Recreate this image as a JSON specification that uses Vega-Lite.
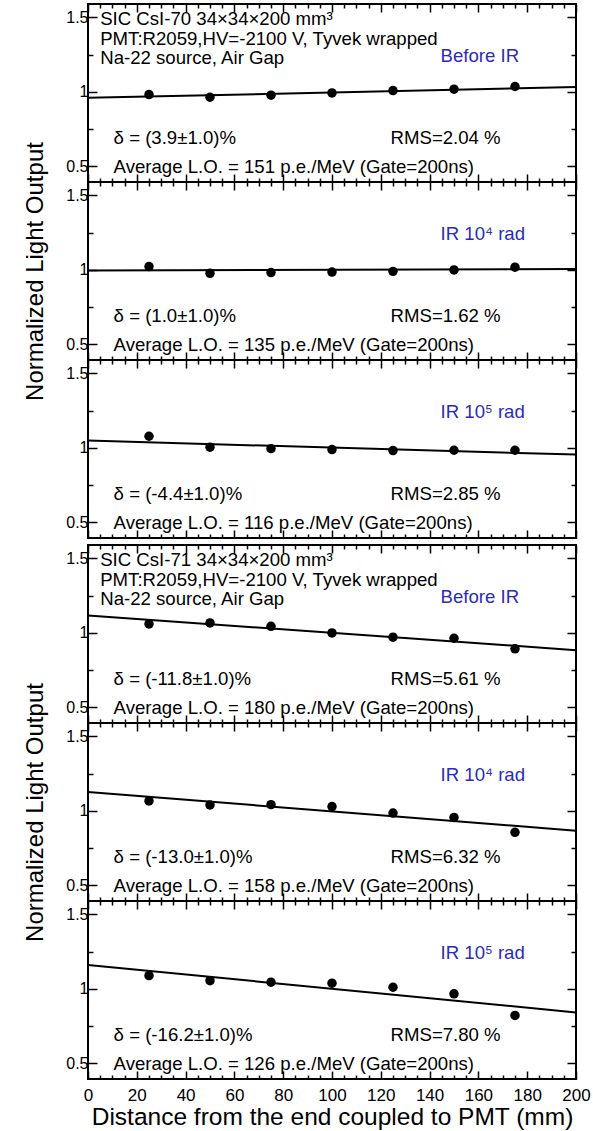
{
"$schema": "https://vega.github.io/schema/vega-lite/v6.json",
"padding": {"left": 22, "top": 2, "right": 0, "bottom": 0},
"background": "white",
"config": {
  "view": {"stroke": "black", "strokeWidth": 2},
  "axis": {"domain": false, "grid": false, "tickColor": "black", "tickWidth": 1.5, "labelFont": "Liberation Sans", "labelFontSize": 16, "labelColor": "black", "titleFont": "Liberation Sans", "titleFontWeight": "normal", "titleColor": "black", "titleFontSize": 24}
},
"datasets": {
  "points": [
    {"panel":1,"distance":25,"lo":0.982},{"panel":1,"distance":50,"lo":0.964},{"panel":1,"distance":75,"lo":0.978},{"panel":1,"distance":100,"lo":0.993},{"panel":1,"distance":125,"lo":1.009},{"panel":1,"distance":150,"lo":1.018},{"panel":1,"distance":175,"lo":1.036},
    {"panel":2,"distance":25,"lo":1.022},{"panel":2,"distance":50,"lo":0.977},{"panel":2,"distance":75,"lo":0.982},{"panel":2,"distance":100,"lo":0.985},{"panel":2,"distance":125,"lo":0.99},{"panel":2,"distance":150,"lo":1.0},{"panel":2,"distance":175,"lo":1.018},
    {"panel":3,"distance":25,"lo":1.078},{"panel":3,"distance":50,"lo":1.005},{"panel":3,"distance":75,"lo":0.995},{"panel":3,"distance":100,"lo":0.989},{"panel":3,"distance":125,"lo":0.982},{"panel":3,"distance":150,"lo":0.984},{"panel":3,"distance":175,"lo":0.984},
    {"panel":4,"distance":25,"lo":1.06},{"panel":4,"distance":50,"lo":1.067},{"panel":4,"distance":75,"lo":1.044},{"panel":4,"distance":100,"lo":1.0},{"panel":4,"distance":125,"lo":0.971},{"panel":4,"distance":150,"lo":0.964},{"panel":4,"distance":175,"lo":0.893},
    {"panel":5,"distance":25,"lo":1.067},{"panel":5,"distance":50,"lo":1.04},{"panel":5,"distance":75,"lo":1.042},{"panel":5,"distance":100,"lo":1.029},{"panel":5,"distance":125,"lo":0.985},{"panel":5,"distance":150,"lo":0.956},{"panel":5,"distance":175,"lo":0.856},
    {"panel":6,"distance":25,"lo":1.089},{"panel":6,"distance":50,"lo":1.055},{"panel":6,"distance":75,"lo":1.045},{"panel":6,"distance":100,"lo":1.038},{"panel":6,"distance":125,"lo":1.011},{"panel":6,"distance":150,"lo":0.967},{"panel":6,"distance":175,"lo":0.822}
  ],
  "fits": [
    {"panel":1,"distance":0,"lo":0.96},{"panel":1,"distance":200,"lo":1.032},
    {"panel":2,"distance":0,"lo":0.996},{"panel":2,"distance":200,"lo":1.006},
    {"panel":3,"distance":0,"lo":1.049},{"panel":3,"distance":200,"lo":0.955},
    {"panel":4,"distance":0,"lo":1.116},{"panel":4,"distance":200,"lo":0.884},
    {"panel":5,"distance":0,"lo":1.127},{"panel":5,"distance":200,"lo":0.867},
    {"panel":6,"distance":0,"lo":1.16},{"panel":6,"distance":200,"lo":0.842}
  ],
  "notes": [
    {"panel":1,"distance":5,"lo":1.492,"label":"SIC CsI-70 34×34×200 mm³","kind":"note"},
    {"panel":1,"distance":5,"lo":1.358,"label":"PMT:R2059,HV=-2100 V, Tyvek wrapped","kind":"note"},
    {"panel":1,"distance":5,"lo":1.226,"label":"Na-22 source, Air Gap","kind":"note"},
    {"panel":1,"distance":144.5,"lo":1.24,"label":"Before IR","kind":"dose"},
    {"panel":1,"distance":10.5,"lo":0.69,"label":"δ = (3.9±1.0)%","kind":"note"},
    {"panel":1,"distance":124,"lo":0.69,"label":"RMS=2.04 %","kind":"note"},
    {"panel":1,"distance":10.5,"lo":0.495,"label":"Average L.O. = 151 p.e./MeV (Gate=200ns)","kind":"note"},
    {"panel":2,"distance":144.5,"lo":1.24,"label":"IR 10⁴ rad","kind":"dose"},
    {"panel":2,"distance":10.5,"lo":0.69,"label":"δ = (1.0±1.0)%","kind":"note"},
    {"panel":2,"distance":124,"lo":0.69,"label":"RMS=1.62 %","kind":"note"},
    {"panel":2,"distance":10.5,"lo":0.495,"label":"Average L.O. = 135 p.e./MeV (Gate=200ns)","kind":"note"},
    {"panel":3,"distance":144.5,"lo":1.24,"label":"IR 10⁵ rad","kind":"dose"},
    {"panel":3,"distance":10.5,"lo":0.69,"label":"δ = (-4.4±1.0)%","kind":"note"},
    {"panel":3,"distance":124,"lo":0.69,"label":"RMS=2.85 %","kind":"note"},
    {"panel":3,"distance":10.5,"lo":0.495,"label":"Average L.O. = 116 p.e./MeV (Gate=200ns)","kind":"note"},
    {"panel":4,"distance":5,"lo":1.492,"label":"SIC CsI-71 34×34×200 mm³","kind":"note"},
    {"panel":4,"distance":5,"lo":1.358,"label":"PMT:R2059,HV=-2100 V, Tyvek wrapped","kind":"note"},
    {"panel":4,"distance":5,"lo":1.226,"label":"Na-22 source, Air Gap","kind":"note"},
    {"panel":4,"distance":144.5,"lo":1.24,"label":"Before IR","kind":"dose"},
    {"panel":4,"distance":10.5,"lo":0.69,"label":"δ = (-11.8±1.0)%","kind":"note"},
    {"panel":4,"distance":124,"lo":0.69,"label":"RMS=5.61 %","kind":"note"},
    {"panel":4,"distance":10.5,"lo":0.495,"label":"Average L.O. = 180 p.e./MeV (Gate=200ns)","kind":"note"},
    {"panel":5,"distance":144.5,"lo":1.24,"label":"IR 10⁴ rad","kind":"dose"},
    {"panel":5,"distance":10.5,"lo":0.69,"label":"δ = (-13.0±1.0)%","kind":"note"},
    {"panel":5,"distance":124,"lo":0.69,"label":"RMS=6.32 %","kind":"note"},
    {"panel":5,"distance":10.5,"lo":0.495,"label":"Average L.O. = 158 p.e./MeV (Gate=200ns)","kind":"note"},
    {"panel":6,"distance":144.5,"lo":1.24,"label":"IR 10⁵ rad","kind":"dose"},
    {"panel":6,"distance":10.5,"lo":0.69,"label":"δ = (-16.2±1.0)%","kind":"note"},
    {"panel":6,"distance":124,"lo":0.69,"label":"RMS=7.80 %","kind":"note"},
    {"panel":6,"distance":10.5,"lo":0.495,"label":"Average L.O. = 126 p.e./MeV (Gate=200ns)","kind":"note"}
  ]
},
"spacing": 3,
"vconcat": [
 {"spacing": 0, "bounds": "flush", "vconcat": [
  {"width": 488, "height": 178, "resolve": {"axis": {"x": "independent", "y": "independent"}}, "layer": [
    {"data": {"name": "fits"}, "transform": [{"filter": "datum.panel == 1"}], "mark": {"type": "line", "color": "black", "strokeWidth": 2},
     "encoding": {"x": {"field": "distance", "type": "quantitative", "scale": {"domain": [0, 200], "nice": false, "zero": false}, "axis": {"orient": "bottom", "values": [0,5,10,15,20,25,30,35,40,45,50,55,60,65,70,75,80,85,90,95,100,105,110,115,120,125,130,135,140,145,150,155,160,165,170,175,180,185,190,195,200], "labels": false, "title": null, "tickSize": {"condition": {"test": "datum.value % 20 === 0", "value": -8}, "value": -4}}},
                  "y": {"field": "lo", "type": "quantitative", "scale": {"domain": [0.395, 1.59], "nice": false, "zero": false}, "axis": {"orient": "left", "values": [0.5,0.75,1,1.25,1.5], "labelExpr": "datum.value == 0.5 ? '0.5' : datum.value == 1 ? '1' : datum.value == 1.5 ? '1.5' : ''", "labelPadding": 9, "title": null, "tickSize": {"condition": {"test": "datum.value == 0.75 || datum.value == 1.25", "value": -5}, "value": -9}}}}},
    {"data": {"name": "points"}, "transform": [{"filter": "datum.panel == 1"}], "mark": {"type": "circle", "color": "black", "size": 90, "opacity": 1},
     "encoding": {"x": {"field": "distance", "type": "quantitative", "axis": {"orient": "top", "values": [0,5,10,15,20,25,30,35,40,45,50,55,60,65,70,75,80,85,90,95,100,105,110,115,120,125,130,135,140,145,150,155,160,165,170,175,180,185,190,195,200], "labels": false, "title": null, "tickSize": {"condition": {"test": "datum.value % 20 === 0", "value": -8}, "value": -4}}},
                  "y": {"field": "lo", "type": "quantitative", "axis": {"orient": "right", "values": [0.5,0.75,1,1.25,1.5], "labels": false, "title": null, "tickSize": {"condition": {"test": "datum.value == 0.75 || datum.value == 1.25", "value": -5}, "value": -9}}}}},
    {"data": {"name": "notes"}, "transform": [{"filter": "datum.panel == 1"}], "mark": {"type": "text", "align": "left", "baseline": "middle", "font": "Liberation Sans", "fontSize": 18.6},
     "encoding": {"x": {"field": "distance", "type": "quantitative", "axis": null}, "y": {"field": "lo", "type": "quantitative", "axis": null}, "text": {"field": "label"}, "color": {"field": "kind", "type": "nominal", "scale": {"domain": ["note", "dose"], "range": ["black", "#2b2bbb"]}, "legend": null}}}
  ]},
  {"width": 488, "height": 178, "resolve": {"axis": {"x": "independent", "y": "independent"}}, "layer": [
    {"data": {"name": "fits"}, "transform": [{"filter": "datum.panel == 2"}], "mark": {"type": "line", "color": "black", "strokeWidth": 2},
     "encoding": {"x": {"field": "distance", "type": "quantitative", "scale": {"domain": [0, 200], "nice": false, "zero": false}, "axis": {"orient": "bottom", "values": [0,5,10,15,20,25,30,35,40,45,50,55,60,65,70,75,80,85,90,95,100,105,110,115,120,125,130,135,140,145,150,155,160,165,170,175,180,185,190,195,200], "labels": false, "title": null, "tickSize": {"condition": {"test": "datum.value % 20 === 0", "value": -8}, "value": -4}}},
                  "y": {"field": "lo", "type": "quantitative", "scale": {"domain": [0.395, 1.59], "nice": false, "zero": false}, "axis": {"orient": "left", "values": [0.5,0.75,1,1.25,1.5], "labelExpr": "datum.value == 0.5 ? '0.5' : datum.value == 1 ? '1' : datum.value == 1.5 ? '1.5' : ''", "labelPadding": 9, "title": "Normalized Light Output", "titlePadding": 18, "tickSize": {"condition": {"test": "datum.value == 0.75 || datum.value == 1.25", "value": -5}, "value": -9}}}}},
    {"data": {"name": "points"}, "transform": [{"filter": "datum.panel == 2"}], "mark": {"type": "circle", "color": "black", "size": 90, "opacity": 1},
     "encoding": {"x": {"field": "distance", "type": "quantitative", "axis": {"orient": "top", "values": [0,5,10,15,20,25,30,35,40,45,50,55,60,65,70,75,80,85,90,95,100,105,110,115,120,125,130,135,140,145,150,155,160,165,170,175,180,185,190,195,200], "labels": false, "title": null, "tickSize": {"condition": {"test": "datum.value % 20 === 0", "value": -8}, "value": -4}}},
                  "y": {"field": "lo", "type": "quantitative", "axis": {"orient": "right", "values": [0.5,0.75,1,1.25,1.5], "labels": false, "title": null, "tickSize": {"condition": {"test": "datum.value == 0.75 || datum.value == 1.25", "value": -5}, "value": -9}}}}},
    {"data": {"name": "notes"}, "transform": [{"filter": "datum.panel == 2"}], "mark": {"type": "text", "align": "left", "baseline": "middle", "font": "Liberation Sans", "fontSize": 18.6},
     "encoding": {"x": {"field": "distance", "type": "quantitative", "axis": null}, "y": {"field": "lo", "type": "quantitative", "axis": null}, "text": {"field": "label"}, "color": {"field": "kind", "type": "nominal", "scale": {"domain": ["note", "dose"], "range": ["black", "#2b2bbb"]}, "legend": null}}}
  ]},
  {"width": 488, "height": 178, "resolve": {"axis": {"x": "independent", "y": "independent"}}, "layer": [
    {"data": {"name": "fits"}, "transform": [{"filter": "datum.panel == 3"}], "mark": {"type": "line", "color": "black", "strokeWidth": 2},
     "encoding": {"x": {"field": "distance", "type": "quantitative", "scale": {"domain": [0, 200], "nice": false, "zero": false}, "axis": {"orient": "bottom", "values": [0,5,10,15,20,25,30,35,40,45,50,55,60,65,70,75,80,85,90,95,100,105,110,115,120,125,130,135,140,145,150,155,160,165,170,175,180,185,190,195,200], "labels": false, "title": null, "tickSize": {"condition": {"test": "datum.value % 20 === 0", "value": -8}, "value": -4}}},
                  "y": {"field": "lo", "type": "quantitative", "scale": {"domain": [0.395, 1.59], "nice": false, "zero": false}, "axis": {"orient": "left", "values": [0.5,0.75,1,1.25,1.5], "labelExpr": "datum.value == 0.5 ? '0.5' : datum.value == 1 ? '1' : datum.value == 1.5 ? '1.5' : ''", "labelPadding": 9, "title": null, "tickSize": {"condition": {"test": "datum.value == 0.75 || datum.value == 1.25", "value": -5}, "value": -9}}}}},
    {"data": {"name": "points"}, "transform": [{"filter": "datum.panel == 3"}], "mark": {"type": "circle", "color": "black", "size": 90, "opacity": 1},
     "encoding": {"x": {"field": "distance", "type": "quantitative", "axis": {"orient": "top", "values": [0,5,10,15,20,25,30,35,40,45,50,55,60,65,70,75,80,85,90,95,100,105,110,115,120,125,130,135,140,145,150,155,160,165,170,175,180,185,190,195,200], "labels": false, "title": null, "tickSize": {"condition": {"test": "datum.value % 20 === 0", "value": -8}, "value": -4}}},
                  "y": {"field": "lo", "type": "quantitative", "axis": {"orient": "right", "values": [0.5,0.75,1,1.25,1.5], "labels": false, "title": null, "tickSize": {"condition": {"test": "datum.value == 0.75 || datum.value == 1.25", "value": -5}, "value": -9}}}}},
    {"data": {"name": "notes"}, "transform": [{"filter": "datum.panel == 3"}], "mark": {"type": "text", "align": "left", "baseline": "middle", "font": "Liberation Sans", "fontSize": 18.6},
     "encoding": {"x": {"field": "distance", "type": "quantitative", "axis": null}, "y": {"field": "lo", "type": "quantitative", "axis": null}, "text": {"field": "label"}, "color": {"field": "kind", "type": "nominal", "scale": {"domain": ["note", "dose"], "range": ["black", "#2b2bbb"]}, "legend": null}}}
  ]}
 ]},
 {"spacing": 0, "bounds": "flush", "vconcat": [
  {"width": 488, "height": 178, "resolve": {"axis": {"x": "independent", "y": "independent"}}, "layer": [
    {"data": {"name": "fits"}, "transform": [{"filter": "datum.panel == 4"}], "mark": {"type": "line", "color": "black", "strokeWidth": 2},
     "encoding": {"x": {"field": "distance", "type": "quantitative", "scale": {"domain": [0, 200], "nice": false, "zero": false}, "axis": {"orient": "bottom", "values": [0,5,10,15,20,25,30,35,40,45,50,55,60,65,70,75,80,85,90,95,100,105,110,115,120,125,130,135,140,145,150,155,160,165,170,175,180,185,190,195,200], "labels": false, "title": null, "tickSize": {"condition": {"test": "datum.value % 20 === 0", "value": -8}, "value": -4}}},
                  "y": {"field": "lo", "type": "quantitative", "scale": {"domain": [0.395, 1.59], "nice": false, "zero": false}, "axis": {"orient": "left", "values": [0.5,0.75,1,1.25,1.5], "labelExpr": "datum.value == 0.5 ? '0.5' : datum.value == 1 ? '1' : datum.value == 1.5 ? '1.5' : ''", "labelPadding": 9, "title": null, "tickSize": {"condition": {"test": "datum.value == 0.75 || datum.value == 1.25", "value": -5}, "value": -9}}}}},
    {"data": {"name": "points"}, "transform": [{"filter": "datum.panel == 4"}], "mark": {"type": "circle", "color": "black", "size": 90, "opacity": 1},
     "encoding": {"x": {"field": "distance", "type": "quantitative", "axis": {"orient": "top", "values": [0,5,10,15,20,25,30,35,40,45,50,55,60,65,70,75,80,85,90,95,100,105,110,115,120,125,130,135,140,145,150,155,160,165,170,175,180,185,190,195,200], "labels": false, "title": null, "tickSize": {"condition": {"test": "datum.value % 20 === 0", "value": -8}, "value": -4}}},
                  "y": {"field": "lo", "type": "quantitative", "axis": {"orient": "right", "values": [0.5,0.75,1,1.25,1.5], "labels": false, "title": null, "tickSize": {"condition": {"test": "datum.value == 0.75 || datum.value == 1.25", "value": -5}, "value": -9}}}}},
    {"data": {"name": "notes"}, "transform": [{"filter": "datum.panel == 4"}], "mark": {"type": "text", "align": "left", "baseline": "middle", "font": "Liberation Sans", "fontSize": 18.6},
     "encoding": {"x": {"field": "distance", "type": "quantitative", "axis": null}, "y": {"field": "lo", "type": "quantitative", "axis": null}, "text": {"field": "label"}, "color": {"field": "kind", "type": "nominal", "scale": {"domain": ["note", "dose"], "range": ["black", "#2b2bbb"]}, "legend": null}}}
  ]},
  {"width": 488, "height": 178, "resolve": {"axis": {"x": "independent", "y": "independent"}}, "layer": [
    {"data": {"name": "fits"}, "transform": [{"filter": "datum.panel == 5"}], "mark": {"type": "line", "color": "black", "strokeWidth": 2},
     "encoding": {"x": {"field": "distance", "type": "quantitative", "scale": {"domain": [0, 200], "nice": false, "zero": false}, "axis": {"orient": "bottom", "values": [0,5,10,15,20,25,30,35,40,45,50,55,60,65,70,75,80,85,90,95,100,105,110,115,120,125,130,135,140,145,150,155,160,165,170,175,180,185,190,195,200], "labels": false, "title": null, "tickSize": {"condition": {"test": "datum.value % 20 === 0", "value": -8}, "value": -4}}},
                  "y": {"field": "lo", "type": "quantitative", "scale": {"domain": [0.395, 1.59], "nice": false, "zero": false}, "axis": {"orient": "left", "values": [0.5,0.75,1,1.25,1.5], "labelExpr": "datum.value == 0.5 ? '0.5' : datum.value == 1 ? '1' : datum.value == 1.5 ? '1.5' : ''", "labelPadding": 9, "title": "Normalized Light Output", "titlePadding": 18, "tickSize": {"condition": {"test": "datum.value == 0.75 || datum.value == 1.25", "value": -5}, "value": -9}}}}},
    {"data": {"name": "points"}, "transform": [{"filter": "datum.panel == 5"}], "mark": {"type": "circle", "color": "black", "size": 90, "opacity": 1},
     "encoding": {"x": {"field": "distance", "type": "quantitative", "axis": {"orient": "top", "values": [0,5,10,15,20,25,30,35,40,45,50,55,60,65,70,75,80,85,90,95,100,105,110,115,120,125,130,135,140,145,150,155,160,165,170,175,180,185,190,195,200], "labels": false, "title": null, "tickSize": {"condition": {"test": "datum.value % 20 === 0", "value": -8}, "value": -4}}},
                  "y": {"field": "lo", "type": "quantitative", "axis": {"orient": "right", "values": [0.5,0.75,1,1.25,1.5], "labels": false, "title": null, "tickSize": {"condition": {"test": "datum.value == 0.75 || datum.value == 1.25", "value": -5}, "value": -9}}}}},
    {"data": {"name": "notes"}, "transform": [{"filter": "datum.panel == 5"}], "mark": {"type": "text", "align": "left", "baseline": "middle", "font": "Liberation Sans", "fontSize": 18.6},
     "encoding": {"x": {"field": "distance", "type": "quantitative", "axis": null}, "y": {"field": "lo", "type": "quantitative", "axis": null}, "text": {"field": "label"}, "color": {"field": "kind", "type": "nominal", "scale": {"domain": ["note", "dose"], "range": ["black", "#2b2bbb"]}, "legend": null}}}
  ]},
  {"width": 488, "height": 178, "resolve": {"axis": {"x": "independent", "y": "independent"}}, "layer": [
    {"data": {"name": "fits"}, "transform": [{"filter": "datum.panel == 6"}], "mark": {"type": "line", "color": "black", "strokeWidth": 2},
     "encoding": {"x": {"field": "distance", "type": "quantitative", "scale": {"domain": [0, 200], "nice": false, "zero": false}, "axis": {"orient": "bottom", "values": [0,5,10,15,20,25,30,35,40,45,50,55,60,65,70,75,80,85,90,95,100,105,110,115,120,125,130,135,140,145,150,155,160,165,170,175,180,185,190,195,200], "labelExpr": "datum.value % 20 === 0 ? datum.label : ''", "labelFontSize": 17, "labelPadding": 16, "labelFlush": false, "labelOverlap": false, "title": "Distance from the end coupled to PMT (mm)", "titleFontSize": 24.5, "titlePadding": -2, "tickSize": {"condition": {"test": "datum.value % 20 === 0", "value": -8}, "value": -4}}},
                  "y": {"field": "lo", "type": "quantitative", "scale": {"domain": [0.395, 1.59], "nice": false, "zero": false}, "axis": {"orient": "left", "values": [0.5,0.75,1,1.25,1.5], "labelExpr": "datum.value == 0.5 ? '0.5' : datum.value == 1 ? '1' : datum.value == 1.5 ? '1.5' : ''", "labelPadding": 9, "title": null, "tickSize": {"condition": {"test": "datum.value == 0.75 || datum.value == 1.25", "value": -5}, "value": -9}}}}},
    {"data": {"name": "points"}, "transform": [{"filter": "datum.panel == 6"}], "mark": {"type": "circle", "color": "black", "size": 90, "opacity": 1},
     "encoding": {"x": {"field": "distance", "type": "quantitative", "axis": {"orient": "top", "values": [0,5,10,15,20,25,30,35,40,45,50,55,60,65,70,75,80,85,90,95,100,105,110,115,120,125,130,135,140,145,150,155,160,165,170,175,180,185,190,195,200], "labels": false, "title": null, "tickSize": {"condition": {"test": "datum.value % 20 === 0", "value": -8}, "value": -4}}},
                  "y": {"field": "lo", "type": "quantitative", "axis": {"orient": "right", "values": [0.5,0.75,1,1.25,1.5], "labels": false, "title": null, "tickSize": {"condition": {"test": "datum.value == 0.75 || datum.value == 1.25", "value": -5}, "value": -9}}}}},
    {"data": {"name": "notes"}, "transform": [{"filter": "datum.panel == 6"}], "mark": {"type": "text", "align": "left", "baseline": "middle", "font": "Liberation Sans", "fontSize": 18.6},
     "encoding": {"x": {"field": "distance", "type": "quantitative", "axis": null}, "y": {"field": "lo", "type": "quantitative", "axis": null}, "text": {"field": "label"}, "color": {"field": "kind", "type": "nominal", "scale": {"domain": ["note", "dose"], "range": ["black", "#2b2bbb"]}, "legend": null}}}
  ]}
 ]}
]
}
